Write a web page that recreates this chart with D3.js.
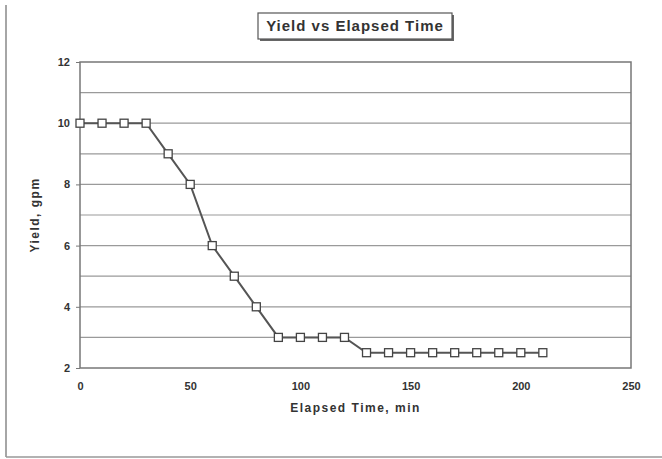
<!DOCTYPE html>
<html>
<head>
<meta charset="utf-8">
<script src="https://cdn.jsdelivr.net/npm/d3@7"></script>
<style>
  body { margin: 0; background: #fff; }
  text { font-family: "Liberation Sans", Arial, sans-serif; fill: #333; }
</style>
</head>
<body>
<div id="chart"></div>
<script>
const times = [0, 10, 20, 30, 40, 50, 60, 70, 80, 90, 100, 110, 120, 130, 140, 150, 160, 170, 180, 190, 200, 210];
const yields = [10, 10, 10, 10, 9, 8, 6, 5, 4, 3, 3, 3, 3, 2.5, 2.5, 2.5, 2.5, 2.5, 2.5, 2.5, 2.5, 2.5];
const xTicks = [0, 50, 100, 150, 200, 250];
const yTicks = [2, 4, 6, 8, 10, 12];
const yGrid = [3, 4, 5, 6, 7, 8, 9, 10, 11];

const canvasWidth = 662, canvasHeight = 459;
const plotLeft = 80, plotRight = 631, plotTop = 62, plotBottom = 368;

const svg = d3.select('#chart').append('svg')
    .attr('width', canvasWidth)
    .attr('height', canvasHeight);

// page frame
svg.append('line').attr('x1', 6).attr('x2', 6).attr('y1', 5).attr('y2', 457)
    .attr('stroke', '#888').attr('stroke-width', 1.5);
svg.append('line').attr('x1', 6).attr('x2', 662).attr('y1', 457).attr('y2', 457)
    .attr('stroke', '#999').attr('stroke-width', 1.5);

let x = d3.scaleLinear().domain([0, 250]).range([plotLeft, plotRight]);
let y = d3.scaleLinear().domain([2, 12]).range([plotBottom, plotTop]);

// plot area
svg.append('rect')
    .attr('x', plotLeft).attr('y', plotTop)
    .attr('width', plotRight - plotLeft).attr('height', plotBottom - plotTop)
    .attr('fill', '#fff');

svg.append('g').selectAll('line')
    .data(yGrid)
    .enter()
    .append('line')
    .attr('x1', plotLeft).attr('x2', plotRight)
    .attr('y1', d => y(d)).attr('y2', d => y(d))
    .attr('stroke', '#9a9a9a').attr('stroke-width', 1.2);

svg.append('rect')
    .attr('x', plotLeft).attr('y', plotTop)
    .attr('width', plotRight - plotLeft).attr('height', plotBottom - plotTop)
    .attr('fill', 'none').attr('stroke', '#777').attr('stroke-width', 1.5);

// axes
let xAxis = d3.axisBottom(x).tickValues(xTicks).tickSize(0).tickPadding(14);
svg.append('g')
    .attr('transform', 'translate(0,' + plotBottom + ')')
    .call(xAxis)
    .call(g => g.select('.domain').remove())
    .selectAll('text')
    .style('font-size', '11px')
    .style('font-weight', 'bold');

let yAxis = d3.axisLeft(y).tickValues(yTicks).tickSize(4).tickPadding(6);
svg.append('g')
    .attr('transform', 'translate(' + plotLeft + ',0)')
    .call(yAxis)
    .call(g => g.select('.domain').remove())
    .call(g => g.selectAll('.tick line').attr('stroke', '#777'))
    .selectAll('text')
    .style('font-size', '11px')
    .style('font-weight', 'bold');

// line + markers
let pts = times.map((t, i) => [t, yields[i]]);
let line = d3.line().x(d => x(d[0])).y(d => y(d[1]));

svg.append('path')
    .datum(pts)
    .attr('d', line)
    .attr('fill', 'none')
    .attr('stroke', '#555')
    .attr('stroke-width', 2);

svg.append('g').selectAll('rect')
    .data(pts)
    .enter()
    .append('rect')
    .attr('x', d => x(d[0]) - 4)
    .attr('y', d => y(d[1]) - 4)
    .attr('width', 8).attr('height', 8)
    .attr('fill', '#fff')
    .attr('stroke', '#444')
    .attr('stroke-width', 1.3);

// title box
svg.append('rect')
    .attr('x', 260).attr('y', 15).attr('width', 194).attr('height', 26)
    .attr('fill', '#666');
svg.append('rect')
    .attr('x', 258).attr('y', 13).attr('width', 194).attr('height', 26)
    .attr('fill', '#fff').attr('stroke', '#555').attr('stroke-width', 1.2);
svg.append('text')
    .attr('x', 355).attr('y', 31)
    .attr('text-anchor', 'middle')
    .text('Yield vs Elapsed Time')
    .style('font-size', '15px')
    .style('font-weight', 'bold')
    .style('letter-spacing', '1px');

// axis titles
svg.append('text')
    .attr('x', (plotLeft + plotRight) / 2).attr('y', 412)
    .attr('text-anchor', 'middle')
    .text('Elapsed Time, min')
    .style('font-size', '12px')
    .style('font-weight', 'bold')
    .style('letter-spacing', '1.5px');

svg.append('text')
    .attr('transform', 'translate(39,' + ((plotTop + plotBottom) / 2) + ') rotate(-90)')
    .attr('text-anchor', 'middle')
    .text('Yield, gpm')
    .style('font-size', '12px')
    .style('font-weight', 'bold')
    .style('letter-spacing', '1.5px');
</script>
</body>
</html>
